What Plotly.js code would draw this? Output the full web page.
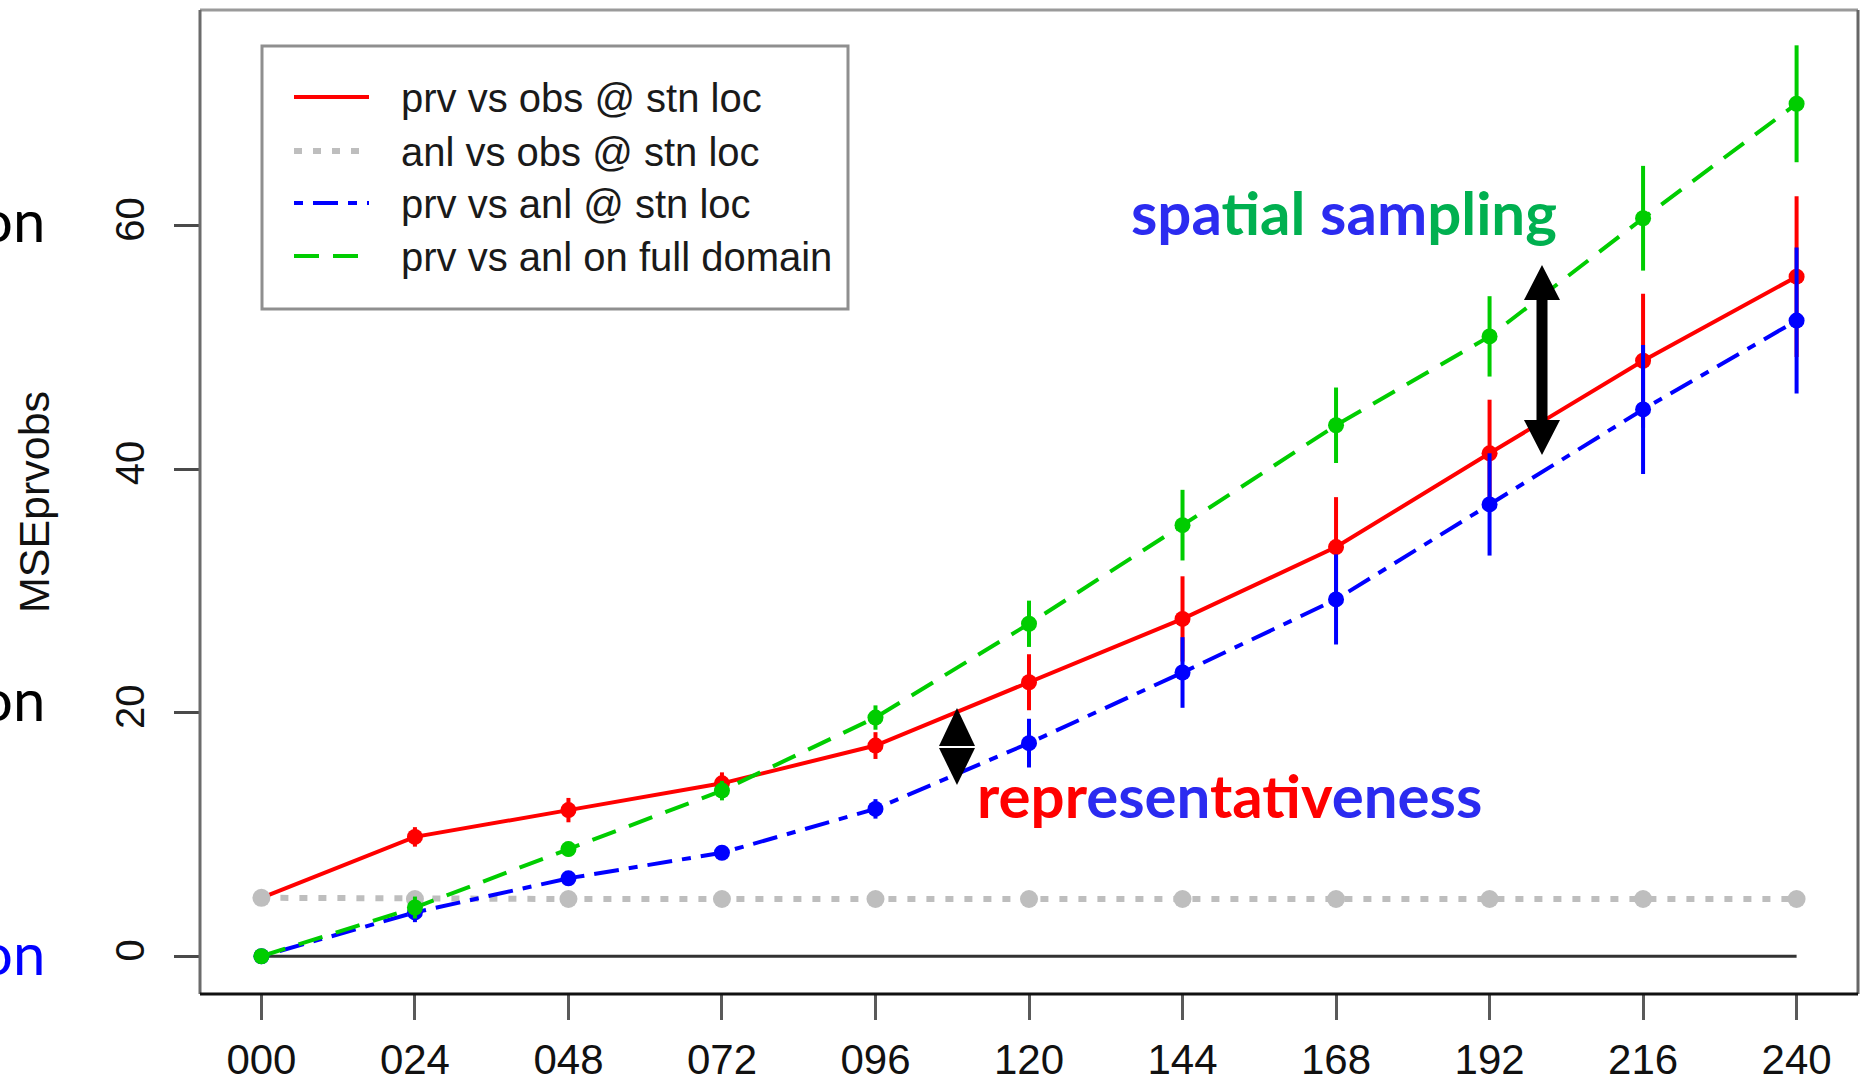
<!DOCTYPE html>
<html><head><meta charset="utf-8">
<script src="https://cdn.plot.ly/plotly-3.0.1.min.js"></script>
<style>html,body{margin:0;padding:0;background:#fff}#chart{width:1873px;height:1090px}</style>
</head><body><div id="chart"></div>
<script>
// ---------------- data ----------------
const leadTimes   = [0, 24, 48, 72, 96, 120, 144, 168, 192, 216, 240];
const tickLabels  = ['000','024','048','072','096','120','144','168','192','216','240'];
const yTickVals   = [0, 20, 40, 60];
const seriesNames = ['prv vs obs @ stn loc','anl vs obs @ stn loc','prv vs anl @ stn loc','prv vs anl on full domain'];

const prvObs        = [4.8, 9.8, 12.0, 14.2, 17.3, 22.5, 27.7, 33.6, 41.3, 48.9, 55.8];
const prvObsErr     = [0.0, 0.8, 1.0, 0.9, 1.1, 2.3, 3.5, 4.1, 4.4, 5.5, 6.6];
const anlObs        = [4.8, 4.7, 4.7, 4.7, 4.7, 4.7, 4.7, 4.7, 4.7, 4.7, 4.7];
const anlObsErr     = [0.0, 0.4, 0.4, 0.4, 0.4, 0.4, 0.4, 0.4, 0.4, 0.4, 0.4];
const prvAnlStn     = [0.0, 3.6, 6.4, 8.5, 12.1, 17.5, 23.3, 29.3, 37.1, 44.9, 52.2];
const prvAnlStnErr  = [0.0, 0.8, 0.5, 0.6, 0.8, 2.0, 2.9, 3.7, 4.2, 5.3, 6.0];
const prvAnlFull    = [0.0, 4.0, 8.8, 13.6, 19.6, 27.3, 35.4, 43.6, 50.9, 60.6, 70.0];
const prvAnlFullErr = [0.0, 0.9, 0.6, 0.8, 1.0, 1.9, 2.9, 3.1, 3.3, 4.3, 4.8];
const zeroLineX = [0, 240];
const zeroLineY = [0, 0];

// ---------------- styles ----------------
const colors = ['#ff0000', '#bebebe', '#0000ff', '#00cd00'];
const dashes = ['solid', '8px,11px', '9px,10px,25px,10px', '25px,14px'];
const widths = [4, 6, 4, 4];
const msizes = [16, 18, 16, 16];
const REG = 'Liberation Sans, Arial, sans-serif';
const SLIDE = 'Lato, Open Sans, sans-serif';

// plot frame in pixels
const L = 200, R = 15, T = 10, B = 96, W = 1873, H = 1090;
const PW = W - L - R, PH = H - T - B;
const px = x => (x - L) / PW;
const py = y => (H - B - y) / PH;

const values = [prvObs, anlObs, prvAnlStn, prvAnlFull];
const errs = [prvObsErr, anlObsErr, prvAnlStnErr, prvAnlFullErr];

const traces = [{
  x: zeroLineX, y: zeroLineY, mode: 'lines', type: 'scatter',
  line: {color: '#333333', width: 3}, hoverinfo: 'skip', showlegend: false
}];
values.forEach((v, i) => {
  traces.push({
    x: leadTimes, y: v, name: seriesNames[i], type: 'scatter', mode: 'lines+markers',
    line: {color: colors[i], width: widths[i], dash: dashes[i]},
    marker: {color: colors[i], size: msizes[i], symbol: 'circle'},
    error_y: {type: 'data', array: errs[i], visible: true, color: colors[i], thickness: 4, width: 0},
    showlegend: false, cliponaxis: false
  });
});

// ---------------- shapes: frame, legend, arrows ----------------
const shapes = [];
const pline = (x0, y0, x1, y1, color, width, dash) => shapes.push({
  type: 'line', xref: 'paper', yref: 'paper', x0: px(x0), y0: py(y0), x1: px(x1), y1: py(y1),
  line: {color, width, dash: dash || 'solid'}, layer: 'above'
});
// plot box
pline(200, 10, 1858, 10, '#9a9a9a', 3);
pline(200, 10, 200, 994, '#6b6b6b', 3);
pline(1858, 10, 1858, 994, '#666666', 3);
pline(200, 994, 1858, 994, '#111111', 3);

// legend box
shapes.push({type: 'rect', xref: 'paper', yref: 'paper', x0: px(262), y0: py(309), x1: px(848), y1: py(46),
  line: {color: '#8f8f8f', width: 3}, fillcolor: '#ffffff', layer: 'above'});
const legRows = [97, 151, 203, 256];
legRows.forEach((yy, i) => pline(294, yy, 369, yy, colors[i], i === 1 ? 6 : 4, dashes[i]));

// arrows (pixel outlines converted to paper coords)
const pathFrom = pts => 'M' + pts.map(p => px(p[0]).toFixed(5) + ',' + py(p[1]).toFixed(5)).join('L') + 'Z';
const bx = 1542;
shapes.push({type: 'path', xref: 'paper', yref: 'paper', layer: 'above', fillcolor: '#000', line: {width: 0},
  path: pathFrom([[bx,265],[bx+18,300],[bx+5.5,300],[bx+5.5,420],[bx+18,420],[bx,455],[bx-18,420],[bx-5.5,420],[bx-5.5,300],[bx-18,300]])});
const sx = 957;
shapes.push({type: 'path', xref: 'paper', yref: 'paper', layer: 'above', fillcolor: '#000', line: {width: 0},
  path: pathFrom([[sx,708],[sx+18,746],[sx-18,746]])});
shapes.push({type: 'path', xref: 'paper', yref: 'paper', layer: 'above', fillcolor: '#000', line: {width: 0},
  path: pathFrom([[sx,785],[sx+18,748],[sx-18,748]])});

// ---------------- annotations ----------------
const annotations = [];
legRows.forEach((yy, i) => annotations.push({
  xref: 'paper', yref: 'paper', x: px(399), y: py(yy + 1), xanchor: 'left', yanchor: 'middle',
  text: seriesNames[i], showarrow: false, font: {family: REG, size: 40, color: '#1a1a1a'}
}));
const BLUE = '#2b2bf0', GREEN = '#00b050', RED = '#ff0000';
const span = (t, c) => '<span style="color:' + c + '">' + t + '</span>';
annotations.push({
  xref: 'paper', yref: 'paper', x: px(1129), y: py(212), xanchor: 'left', yanchor: 'middle', showarrow: false,
  text: span('spa', BLUE) + span('tial', GREEN) + ' ' + span('sam', BLUE) + span('pling', GREEN),
  font: {family: SLIDE, size: 60, weight: 'bold', color: BLUE}
});
annotations.push({
  xref: 'paper', yref: 'paper', x: px(975), y: py(795), xanchor: 'left', yanchor: 'middle', showarrow: false,
  text: span('repr', RED) + span('esen', BLUE) + span('tativ', RED) + span('eness', BLUE),
  font: {family: SLIDE, size: 60, weight: 'bold', color: RED}
});
// slide text clipped at the left edge of the picture (as in the reference)
[[219, '#000000'], [698, '#000000'], [952, '#0000ff']].forEach(([yy, c]) => annotations.push({
  xref: 'paper', yref: 'paper', x: px(47), y: py(yy), xanchor: 'right', yanchor: 'middle', showarrow: false,
  text: 'on', font: {family: SLIDE, size: 58, color: c}
}));

const layout = {
  width: W, height: H,
  margin: {l: L, r: R, t: T, b: B},
  paper_bgcolor: '#ffffff', plot_bgcolor: '#ffffff',
  showlegend: false,
  xaxis: {
    range: [-9.6, 249.6], tickvals: leadTimes, ticktext: tickLabels,
    ticks: 'outside', ticklen: 25, tickwidth: 3, tickcolor: '#5a5a5a',
    showgrid: false, zeroline: false, showline: false,
    ticklabelstandoff: 4,
    tickfont: {family: REG, size: 42, color: '#111'}
  },
  yaxis: {
    range: [-3.1, 77.7], tickvals: yTickVals, ticktext: yTickVals.map(String),
    ticks: 'outside', ticklen: 25, tickwidth: 3, tickcolor: '#4a4a4a', tickangle: -90,
    showgrid: false, zeroline: false, showline: false,
    ticklabelstandoff: 14,
    tickfont: {family: REG, size: 40, color: '#111'},
    title: {text: 'MSEprvobs', font: {family: REG, size: 43, color: '#111'}, standoff: 44}
  },
  shapes, annotations
};
Plotly.newPlot('chart', traces, layout, {displayModeBar: false, staticPlot: true});
</script></body></html>
